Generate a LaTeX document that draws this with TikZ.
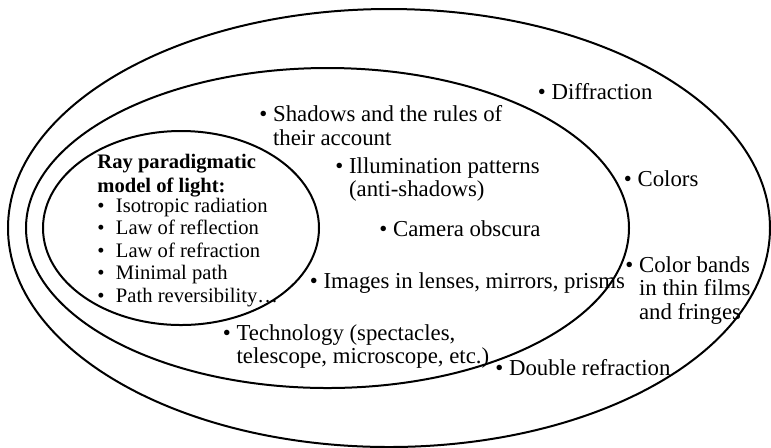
\documentclass[tikz,border=0pt]{standalone}
\usepackage{fontspec}
\setmainfont{Liberation Serif}
% bullet with a hanging second line
\newcommand{\bitem}[1]{\textbullet\ \begin{tabular}[t]{@{}l@{}}#1\end{tabular}}
% bullet of the inner list, wider gap
\newcommand{\ritem}[1]{\makebox[9.3pt][l]{\textbullet}#1}

\begin{document}
\begin{tikzpicture}[x=0.5pt,y=-0.5pt,
	ring/.style={line width=1pt},
	txt/.style={anchor=base west,inner sep=0pt,font=\fontsize{11.4}{11.75}\selectfont},
	core/.style={anchor=base west,inner sep=0pt,font=\fontsize{10.3}{11.25}\selectfont}]
	\useasboundingbox (0,0) rectangle (771,447);
	
	%%%%% nested ellipses %%%%%
	\draw[ring] (389,228) ellipse (190.5pt and 109.5pt);
	\draw[ring] (327.5,228) ellipse (150.75pt and 80pt);
	\draw[ring] (181,228) ellipse (69pt and 48.5pt);
	
	%%%%% inner ellipse %%%%%
	\node[core] (ray) at (97,168) {\begin{tabular}[t]{@{}l@{}}
		\textbf{Ray paradigmatic}\\[0.75pt]
		\textbf{model of light:}\\[-1.25pt]
		\ritem{Isotropic radiation}\\
		\ritem{Law of reflection}\\
		\ritem{Law of refraction}\\
		\ritem{Minimal path}\\
		\ritem{Path reversibility…}
	\end{tabular}};
	
	%%%%% middle ellipse %%%%%
	\node[txt] (shadows) at (259,121.7) {\bitem{Shadows and the rules of\\their account}};
	\node[txt] (illum) at (335,173) {\bitem{Illumination patterns\\(anti-shadows)}};
	\node[txt] (camera) at (379,236) {\bitem{Camera obscura}};
	\node[txt] (images) at (309.5,288) {\bitem{Images in lenses, mirrors, prisms}};
	\node[txt] (tech) at (222.5,340) {\bitem{Technology (spectacles,\\telescope, microscope, etc.)}};
	
	%%%%% outer ellipse %%%%%
	\node[txt] (diffr) at (537.5,99) {\bitem{Diffraction}};
	\node[txt] (colors) at (623.5,186) {\bitem{Colors}};
	\node[txt] (bands) at (625,272) {\bitem{Color bands\\in thin films\\and fringes}};
	\node[txt] (double) at (495,375) {\bitem{Double refraction}};
\end{tikzpicture}
\end{document}
